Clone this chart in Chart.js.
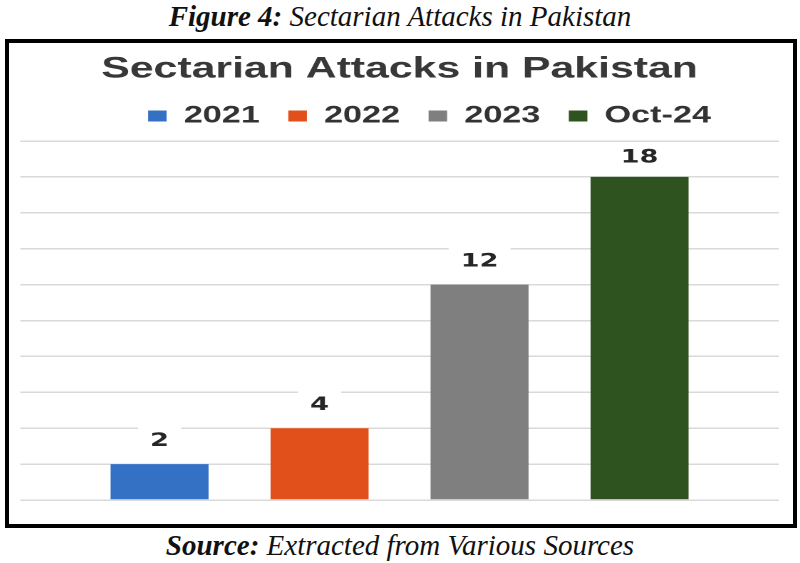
<!DOCTYPE html>
<html><head><meta charset="utf-8">
<script src="https://cdn.jsdelivr.net/npm/chart.js@4"></script>
<style>
html,body{margin:0;padding:0;background:#fff;}
body{width:800px;height:563px;position:relative;overflow:hidden;}
.cap{position:absolute;left:0;width:800px;text-align:center;font-family:"Liberation Serif",serif;font-style:italic;color:#111;line-height:1;white-space:nowrap;}
#fig{top:2px;font-size:29px;}
#src{top:531px;font-size:29px;}
#box{position:absolute;left:5px;top:39px;width:784px;height:481px;border:4px solid #000;}
#c{display:block;}
</style></head><body>
<div id="fig" class="cap"><b>Figure 4:</b> Sectarian Attacks in Pakistan</div>
<div id="box"><canvas id="c" width="550" height="481" style="width:784px;height:481px"></canvas></div>
<div id="src" class="cap"><b>Source:</b> Extracted from Various Sources</div>
<script>
const categories = [''];
const seriesLabels = ['2021', '2022', '2023', 'Oct-24'];
const attacks2021 = [2];
const attacks2022 = [4];
const attacks2023 = [12];
const attacksOct24 = [18];
const seriesValues = [attacks2021, attacks2022, attacks2023, attacksOct24];
const seriesColors = ['#3470C4', '#E1501A', '#7F7F7F', '#2F531E'];
const yMin = 0, yMax = 20, yStep = 2;

const valueLabels = {
  id: 'valueLabels',
  afterDatasetsDraw(chart) {
    const ctx = chart.ctx;
    ctx.save();
    ctx.font = 'bold 19px "DejaVu Sans", Verdana, sans-serif';
    ctx.textAlign = 'center';
    ctx.textBaseline = 'middle';
    chart.data.datasets.forEach((ds, i) => {
      const meta = chart.getDatasetMeta(i);
      meta.data.forEach((el, j) => {
        const txt = String(ds.data[j]);
        const w = ctx.measureText(txt).width + 17;
        const cy = Math.max(el.y - 24, chart.chartArea.top + 15.5);
        ctx.fillStyle = '#fff';
        ctx.fillRect(el.x - w / 2, cy - 13.5, w, 27);
        ctx.fillStyle = '#262626';
        ctx.fillText(txt, el.x, cy + 1);
      });
    });
    ctx.restore();
  }
};

const legendSpacing = {
  id: 'legendSpacing',
  beforeInit(chart) {
    const fit = chart.legend.fit;
    chart.legend.fit = function () { fit.call(this); this.height += 3; };
  },
  afterLayout(chart) {
    chart.legend.left += 42;
  }
};

new Chart(document.getElementById('c'), {
  type: 'bar',
  data: {
    labels: categories,
    datasets: seriesLabels.map((lab, i) => ({
      label: lab,
      data: seriesValues[i],
      backgroundColor: seriesColors[i],
      borderWidth: 0
    }))
  },
  options: {
    responsive: false,
    animation: false,
    devicePixelRatio: 2,
    layout: { padding: { left: 8, right: 10, top: 0, bottom: 24 } },
    datasets: { bar: { categoryPercentage: 0.844, barPercentage: 0.6125 } },
    plugins: {
      title: {
        display: true,
        text: 'Sectarian Attacks in Pakistan',
        color: '#383838',
        font: { family: '"Liberation Sans", Arial, sans-serif', size: 30, weight: 'bold', lineHeight: 1 },
        padding: { top: 11, bottom: 0 }
      },
      legend: {
        display: true,
        position: 'top',
        labels: {
          boxWidth: 13, boxHeight: 11, padding: 20, color: '#333333',
          font: { family: '"Liberation Sans", Arial, sans-serif', size: 24, weight: 'bold' }
        }
      },
      tooltip: { enabled: false }
    },
    scales: {
      x: { display: false },
      y: {
        min: yMin, max: yMax,
        ticks: { display: false, stepSize: yStep },
        grid: { color: '#D9D9D9', lineWidth: 1.5, drawTicks: false },
        border: { display: false }
      }
    }
  },
  plugins: [valueLabels, legendSpacing]
});
</script>
</body></html>
